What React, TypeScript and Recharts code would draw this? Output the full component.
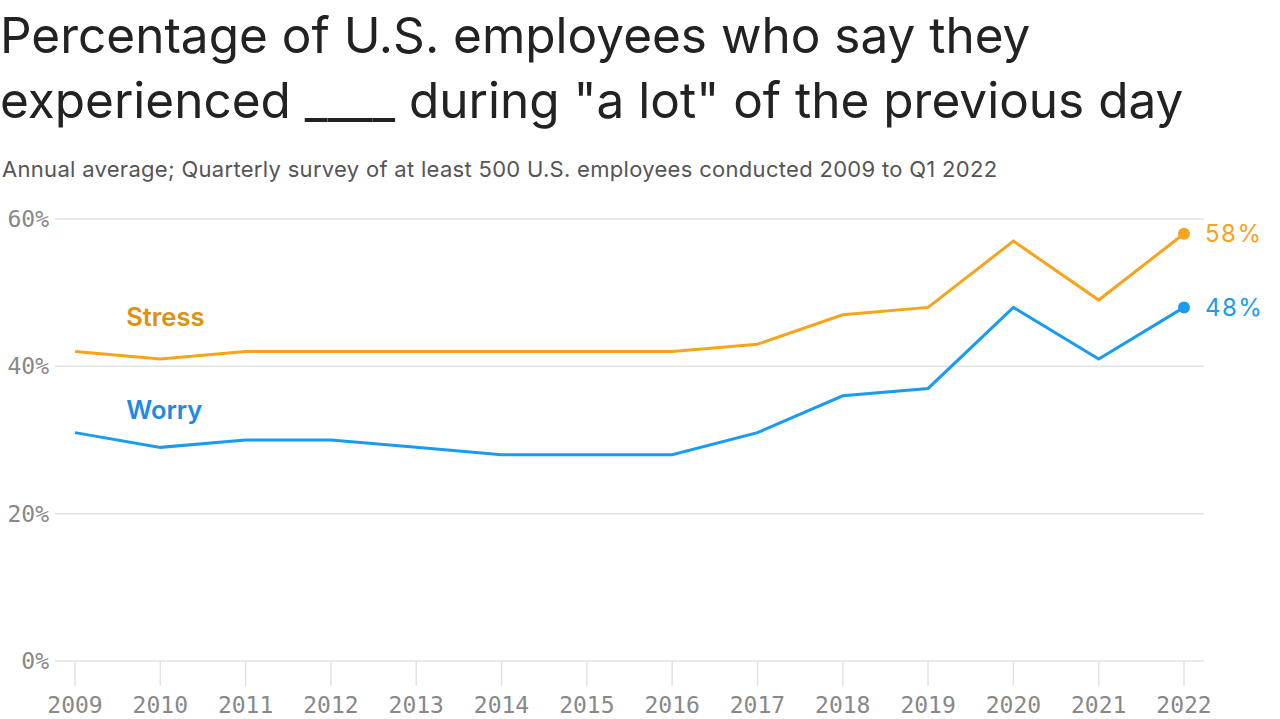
import { LineChart, Line, XAxis, YAxis, CartesianGrid, ReferenceDot } from 'recharts';

const years = [2009, 2010, 2011, 2012, 2013, 2014, 2015, 2016, 2017, 2018, 2019, 2020, 2021, 2022];
const stress = [42, 41, 42, 42, 42, 42, 42, 42, 43, 47, 48, 57, 49, 58];
const worry = [31, 29, 30, 30, 29, 28, 28, 28, 31, 36, 37, 48, 41, 48];
const yTicks = [0, 20, 40, 60];

const STRESS = '#f9a21b';
const STRESS_TEXT = '#e0900e';
const WORRY = '#1a9bf2';
const WORRY_TEXT = '#1f8ae6';
const MONO = '"DejaVu Sans Mono", monospace';

const data = years.map((year, i) => ({ year, stress: stress[i], worry: worry[i] }));

// end-of-line value label + dot on the last point only
const endLabel = (color: string) => (props: any) => {
  const { x, y, index, value } = props;
  if (index !== years.length - 1) return null;
  return (
    <g>
      <circle cx={x} cy={y} r={6} fill={color} />
      <text
        x={x + 21}
        y={y}
        dy="0.36em"
        fill={color}
        fontFamily="Inter, sans-serif"
        fontSize={24}
        letterSpacing={1.5}
      >
        {value}%
      </text>
    </g>
  );
};

const seriesName = (text: string, color: string) => (props: any) => {
  const { viewBox } = props;
  return (
    <text
      x={viewBox.x}
      y={viewBox.y}
      dy="0.36em"
      fill={color}
      fontFamily="Inter, sans-serif"
      fontWeight={600}
      fontSize={25.5}
    >
      {text}
    </text>
  );
};

export default function App() {
  return (
    <div
      style={{
        position: 'fixed',
        left: 0,
        top: 0,
        width: 1280,
        height: 719,
        background: '#fff',
        fontFamily: 'Inter, sans-serif',
      }}
    >
      <div
        style={{
          position: 'absolute',
          left: 0,
          top: 3,
          fontSize: 49.5,
          lineHeight: '65px',
          color: '#222',
          whiteSpace: 'nowrap',
        }}
      >
        Percentage of U.S. employees who say they
        <br />
        experienced ____ during "a lot" of the previous day
      </div>
      <div
        style={{
          position: 'absolute',
          left: 2,
          top: 156,
          fontSize: 22,
          letterSpacing: 0.3,
          color: '#555',
          whiteSpace: 'nowrap',
        }}
      >
        Annual average; Quarterly survey of at least 500 U.S. employees conducted 2009 to Q1 2022
      </div>
      <div style={{ position: 'absolute', left: 0, top: 0 }}>
        <LineChart
          width={1280}
          height={719}
          data={data}
          margin={{ top: 219, right: 76, bottom: 0, left: 0 }}
        >
          <CartesianGrid vertical={false} stroke="#e3e3e3" strokeWidth={1.5} />
          <XAxis
            dataKey="year"
            type="number"
            domain={[2009, 2022]}
            ticks={years}
            padding={{ left: 20, right: 20 }}
            height={58}
            axisLine={false}
            tickSize={25}
            tickMargin={11}
            tickLine={{ stroke: '#e3e3e3', strokeWidth: 1.5 }}
            tick={{ fill: '#888', fontFamily: MONO, fontSize: 23 }}
            interval={0}
          />
          <YAxis
            domain={[0, 60]}
            ticks={yTicks}
            width={55}
            axisLine={false}
            tickLine={false}
            tickSize={0}
            tickMargin={6}
            tickFormatter={(v) => `${v}%`}
            tick={{ fill: '#888', fontFamily: MONO, fontSize: 23 }}
          />
          <ReferenceDot
            x={2009.6}
            y={46.7}
            r={0}
            fill="none"
            stroke="none"
            label={seriesName('Stress', STRESS_TEXT)}
          />
          <ReferenceDot
            x={2009.6}
            y={34.1}
            r={0}
            fill="none"
            stroke="none"
            label={seriesName('Worry', WORRY_TEXT)}
          />
          <Line
            type="linear"
            dataKey="stress"
            stroke={STRESS}
            strokeWidth={3}
            dot={false}
            isAnimationActive={false}
            label={endLabel(STRESS)}
          />
          <Line
            type="linear"
            dataKey="worry"
            stroke={WORRY}
            strokeWidth={3}
            dot={false}
            isAnimationActive={false}
            label={endLabel(WORRY)}
          />
        </LineChart>
      </div>
    </div>
  );
}
